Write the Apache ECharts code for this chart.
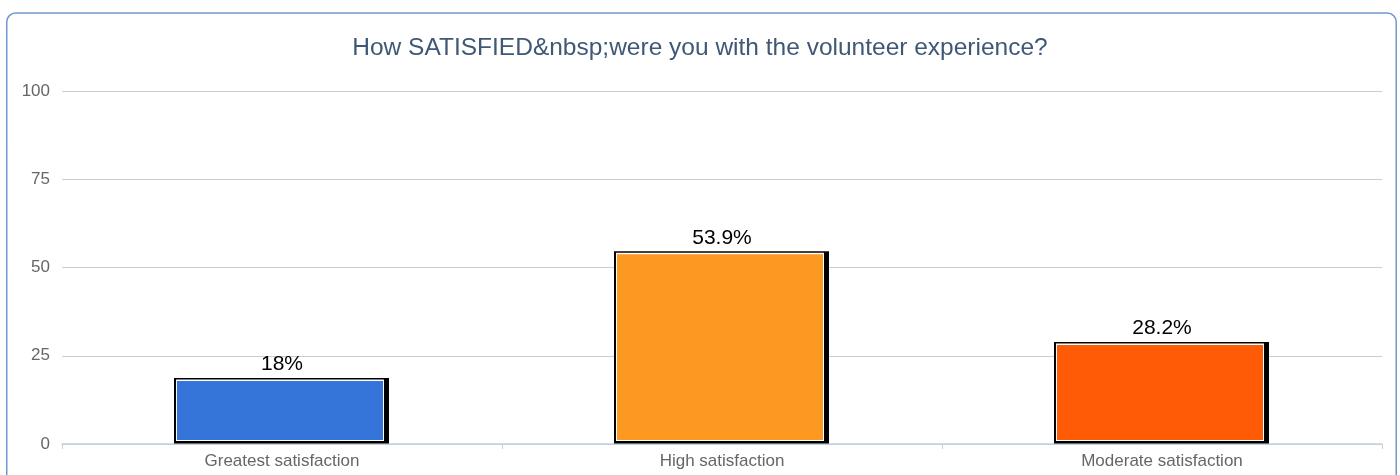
<!DOCTYPE html>
<html><head><meta charset="utf-8">
<script src="https://cdn.jsdelivr.net/npm/echarts@6/dist/echarts.min.js"></script>
<style>html,body{margin:0;padding:0;background:#fff}#c{width:1400px;height:475px}</style>
</head><body><div id="c"></div>
<script>
const categories = ['Greatest satisfaction', 'High satisfaction', 'Moderate satisfaction'];
const values = [18, 53.9, 28.2];
const colors = ['#3575d9', '#fd9820', '#ff5a06'];
const yTicks = [0, 25, 50, 75, 100];
const titleText = 'How SATISFIED&nbsp;were you with the volunteer experience?';

const FONT = 'Liberation Sans';
const chart = echarts.init(document.getElementById('c'));

function renderBar(params, api) {
  const idx = api.value(0);
  const v = api.value(1);
  const top = api.coord([idx, v]);
  const base = api.coord([idx, 0]);
  const s = api.size([1, 0])[0] / 440;
  const cx = top[0], yv = top[1], yb = base[1];
  return {
    type: 'group',
    children: [
      {type: 'rect', shape: {x: cx - 108 * s, y: yv - 2.5, width: 215 * s, height: (yb - 0.5) - (yv - 2.5)}, style: {fill: '#000'}},
      {type: 'rect', shape: {x: cx - 106 * s, y: yv - 1, width: 208 * s, height: (yb - 3) - (yv - 1)}, style: {fill: '#fff'}},
      {type: 'rect', shape: {x: cx - 105 * s, y: yv + 0.5, width: 206 * s, height: (yb - 4) - (yv + 0.5)}, style: {fill: colors[idx]}},
      {type: 'text', x: cx, y: yv - 16, style: {text: v + '%', fill: '#000', font: '21px "' + FONT + '"', align: 'center', verticalAlign: 'middle'}}
    ]
  };
}

chart.setOption({
  animation: false,
  title: {text: titleText, left: 'center', top: 31, textStyle: {fontFamily: FONT, fontSize: 24.5, fontWeight: 'normal', color: '#3e5876'}},
  graphic: [{type: 'rect', shape: {x: 6.75, y: 13, width: 1389.5, height: 500, r: 9}, style: {fill: 'none', stroke: '#6f99cc', lineWidth: 1.5}, z: 0, silent: true}],
  grid: {left: 62, right: 18, top: 91, bottom: 31},
  xAxis: {type: 'category', data: categories,
    axisLine: {lineStyle: {color: '#c3d1e0', width: 1.5}},
    axisTick: {show: true, length: 5, lineStyle: {color: '#c3d1e0'}},
    axisLabel: {color: '#666', fontSize: 17, fontFamily: FONT, margin: 9}},
  yAxis: {type: 'value', min: yTicks[0], max: yTicks[yTicks.length - 1], interval: 25,
    axisLine: {show: false}, axisTick: {show: false},
    splitLine: {lineStyle: {color: '#cccccc'}},
    axisLabel: {color: '#666', fontSize: 17, fontFamily: FONT, margin: 12}},
  series: [
    {type: 'custom', renderItem: renderBar, data: values.map((v, i) => [i, v]), encode: {x: 0, y: 1}, z: 3}
  ]
});
</script></body></html>
